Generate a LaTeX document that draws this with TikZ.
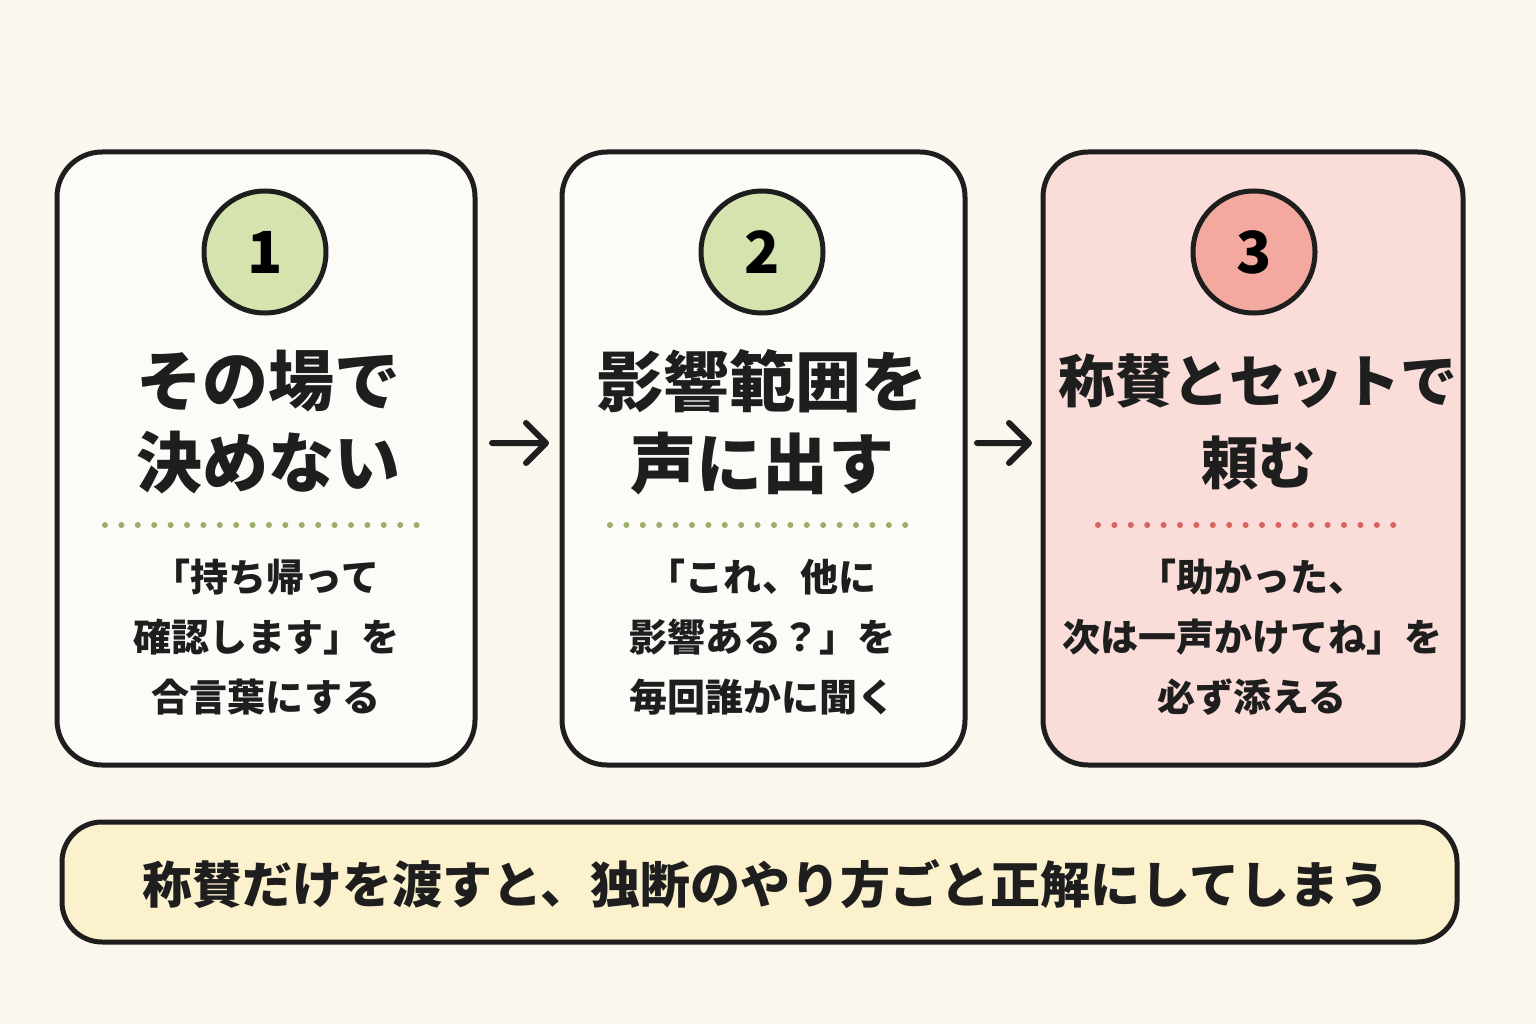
\documentclass[tikz,border=0pt]{standalone}
\usepackage{fontspec}
\setmainfont{Noto Sans CJK JP}
\usetikzlibrary{arrows.meta}
\definecolor{bg}{HTML}{FBF7EE}
\definecolor{card}{HTML}{FCFBF7}
\definecolor{cardr}{HTML}{FADDD8}
\definecolor{cg}{HTML}{D5E4AE}
\definecolor{cr}{HTML}{F4A9A0}
\definecolor{dg}{HTML}{9BAE6A}
\definecolor{dr}{HTML}{D9645E}
\definecolor{ink}{HTML}{1E1E1E}
\definecolor{note}{HTML}{FBF1CC}
\begin{document}
\begin{tikzpicture}[x=1pt,y=-1pt,
  card/.style={draw=ink,line width=5pt,rounded corners=45pt},
  num/.style={circle,draw=ink,line width=5pt,minimum size=122pt,inner sep=0,font=\bfseries\fontsize{58}{60}\selectfont},
  ttl/.style={align=center,font=\bfseries\fontsize{66}{82}\selectfont,text=ink},
  body/.style={align=center,font=\bfseries\fontsize{38}{60}\selectfont,text=ink},
  dots/.style={line width=6pt,line cap=round,dash pattern=on 0pt off 16.4pt},
  arr/.style={line width=6pt,draw=ink,line cap=round,line join=round}]
\fill[bg] (0,0) rectangle (1536,1024);
\useasboundingbox (0,0) rectangle (1536,1024);
\draw[card,fill=card] (57,152) rectangle (475,765);
\draw[card,fill=card] (562,152) rectangle (965,765);
\draw[card,fill=cardr] (1043,152) rectangle (1463,765);
\node[num,fill=cg] (n1) at (265,252) {1};
\node[num,fill=cg] (n2) at (762,252) {2};
\node[num,fill=cr] (n3) at (1254,252) {3};
\node[ttl] (t1) at (268,422) {その場で\\決めない};
\node[ttl] (t2) at (762,422) {影響範囲を\\声に出す};
\node[ttl,font=\bfseries\fontsize{57}{82}\selectfont] (t3) at (1258,422) {称賛とセットで\\頼む};
\draw[dots,dg] (105,525) -- (422,525);
\draw[dots,dg] (610,525) -- (918,525);
\draw[dots,dr] (1098,525) -- (1408,525);
\node[body] (b1) at (266,637) {「持ち帰って\\確認します」を\\合言葉にする};
\node[body] (b2) at (762,637) {「これ、他に\\影響ある？」を\\毎回誰かに聞く};
\node[body] (b3) at (1252,637) {「助かった、\\次は一声かけてね」を\\必ず添える};
\coordinate (a1s) at (492,443); \coordinate (a1e) at (546,443);
\coordinate (a2s) at (977,443); \coordinate (a2e) at (1029,443);
\draw[arr] (a1s) -- (a1e) (a1e) ++(-20,-20) -- (a1e) -- ++(-20,20);
\draw[arr] (a2s) -- (a2e) (a2e) ++(-20,-20) -- (a2e) -- ++(-20,20);
\draw[card,rounded corners=40pt,fill=note] (62,822) rectangle (1457,942);
\node[font=\bfseries\fontsize{50}{54}\selectfont,text=ink] (bt) at (766,884) {称賛だけを渡すと、独断のやり方ごと正解にしてしまう};
\end{tikzpicture}
\end{document}
